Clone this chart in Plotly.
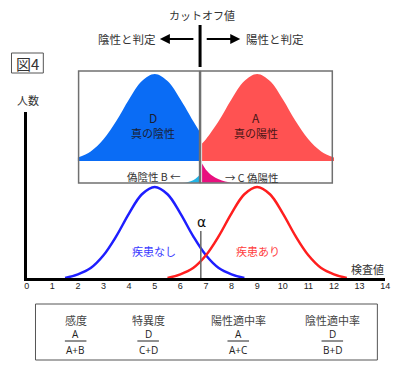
import plotly.graph_objects as go

# the page body has an 8px margin; lay the figure out in reference pixel coordinates
OFF = 8
W, H = 400 - OFF, 368 - OFF
def px(x): return (x - OFF) / W
def py(y): return 1 - (y - OFF) / H

# ---------------- data ----------------
tick_vals = list(range(15))
tick_text = [str(v) for v in tick_vals]

# main chart: number of people vs. test value
no_disease_x = [1.5, 2, 2.5, 3, 3.5, 4, 4.5, 5, 5.5, 6, 6.5, 7, 7.5, 8, 8.5]
no_disease_y = [0.0, 0.04, 0.11, 0.25, 0.46, 0.71, 0.92, 1.0, 0.92, 0.71, 0.46, 0.25, 0.11, 0.04, 0.0]
disease_x = [5.5, 6, 6.5, 7, 7.5, 8, 8.5, 9, 9.5, 10, 10.5, 11, 11.5, 12, 12.5]
disease_y = [0.0, 0.04, 0.11, 0.25, 0.46, 0.71, 0.92, 1.0, 0.92, 0.71, 0.46, 0.25, 0.11, 0.04, 0.0]
cutoff = 6.8

# inset: true negative (D), true positive (A)
tn_x = [2.0, 2.5, 3, 3.5, 4, 4.5, 5, 5.5, 6, 6.5, 6.75]
tn_y = [0.04, 0.11, 0.25, 0.46, 0.71, 0.92, 1.0, 0.92, 0.71, 0.46, 0.34]
tp_x = [6.85, 7, 7.5, 8, 8.5, 9, 9.5, 10, 10.5, 11, 11.5, 12]
tp_y = [0.20, 0.25, 0.46, 0.71, 0.92, 1.0, 0.92, 0.71, 0.46, 0.25, 0.11, 0.04]
# inset tails: false negative (B), false positive (C)
fn_x = [6.1, 6.3, 6.5, 6.65, 6.75]
fn_y = [0.0, 0.01, 0.03, 0.06, 0.09]
fp_x = [6.85, 7.0, 7.25, 7.5, 7.75, 8.0]
fp_y = [0.22, 0.15, 0.08, 0.04, 0.015, 0.0]
tail_base = -0.25

ratio_names = ["感度", "特異度", "陽性適中率", "陰性適中率"]
ratio_num = ["A", "D", "A", "D"]
ratio_den = ["A+B", "C+D", "A+C", "B+D"]

# ---------------- figure ----------------
JP = "Noto Sans CJK JP"
fig = go.Figure()

fig.add_trace(go.Scatter(x=tn_x, y=tn_y, xaxis="x", yaxis="y2", mode="lines",
                         line=dict(color="#0A6CF5", width=0, shape="spline"),
                         fill="tozeroy", fillcolor="#0A6CF5", hoverinfo="skip"))
fig.add_trace(go.Scatter(x=tp_x, y=tp_y, xaxis="x", yaxis="y2", mode="lines",
                         line=dict(color="#FF5252", width=0, shape="spline"),
                         fill="tozeroy", fillcolor="#FF5252", hoverinfo="skip"))
for tx, ty, col in [(fn_x, fn_y, "#22B4E6"), (fp_x, fp_y, "#E8107E")]:
    fig.add_trace(go.Scatter(x=tx, y=[tail_base] * len(tx), xaxis="x", yaxis="y2",
                             mode="lines", line=dict(width=0), hoverinfo="skip"))
    fig.add_trace(go.Scatter(x=tx, y=[tail_base + v for v in ty], xaxis="x", yaxis="y2",
                             mode="lines", line=dict(color=col, width=0, shape="spline"),
                             fill="tonexty", fillcolor=col, hoverinfo="skip"))

fig.add_trace(go.Scatter(x=no_disease_x, y=no_disease_y, mode="lines",
                         line=dict(color="#1E1EFF", width=2.5, shape="spline"), hoverinfo="skip"))
fig.add_trace(go.Scatter(x=disease_x, y=disease_y, mode="lines",
                         line=dict(color="#FF1E1E", width=2.5, shape="spline"), hoverinfo="skip"))

main_top = (278 - 112) / 91
fig.update_layout(
    width=W, height=H, margin=dict(l=0, r=0, t=0, b=0),
    paper_bgcolor="white", plot_bgcolor="rgba(0,0,0,0)", showlegend=False,
    xaxis=dict(domain=[px(24), px(390)], range=[0, 14], tickvals=tick_vals, ticktext=tick_text,
               showline=True, linewidth=3, linecolor="black", showgrid=False, zeroline=False,
               ticks="", tickfont=dict(family="Liberation Sans", size=9, color="#222"),
               ticklabelstandoff=-3, anchor="y", fixedrange=True),
    yaxis=dict(domain=[py(278), py(112)], range=[0, main_top], showline=True, linewidth=3,
               linecolor="black", showgrid=False, zeroline=False, showticklabels=False,
               ticks="", anchor="x"),
    yaxis2=dict(domain=[py(184), py(70)], range=[-(184 - 161) / 87, (161 - 70) / 87],
                visible=False, anchor="x"),
)

shapes = []
# inset boxes
shapes.append(dict(type="rect", xref="paper", yref="paper", x0=px(77), x1=px(200.5), y0=py(183), y1=py(71),
                   line=dict(color="#707070", width=1.5), layer="above"))
shapes.append(dict(type="rect", xref="paper", yref="paper", x0=px(201.5), x1=px(336), y0=py(183), y1=py(71),
                   line=dict(color="#707070", width=1.5), layer="above"))
# cutoff line top
shapes.append(dict(type="line", xref="paper", yref="paper", x0=px(201), x1=px(201), y0=py(25), y1=py(67),
                   line=dict(color="black", width=3)))
# alpha line
shapes.append(dict(type="line", xref="x", yref="paper", x0=cutoff, x1=cutoff, y0=py(231), y1=py(278),
                   line=dict(color="#666", width=1.5)))
# fig label box
shapes.append(dict(type="rect", xref="paper", yref="paper", x0=px(8.5), x1=px(41), y0=py(73), y1=py(53),
                   line=dict(color="#555", width=1)))
# bottom box
shapes.append(dict(type="rect", xref="paper", yref="paper", x0=px(33), x1=px(382), y0=py(360), y1=py(304),
                   line=dict(color="#555", width=1)))
ratio_cx = [74, 148, 240, 336]
for cx in ratio_cx:
    shapes.append(dict(type="line", xref="paper", yref="paper", x0=px(cx - 11), x1=px(cx + 11),
                       y0=py(341), y1=py(341), line=dict(color="#222", width=1)))
fig.update_layout(shapes=shapes)

ann = []
def T(x, y, s, size=11, color="#333", family=JP, xanchor="center"):
    ann.append(dict(x=px(x), y=py(y), xref="paper", yref="paper", text=s, showarrow=False,
                    font=dict(family=family, size=size, color=color), xanchor=xanchor, yanchor="middle"))

T(203, 15, "カットオフ値", 11)
T(126, 39, "陰性と判定", 11.5)
T(277, 39, "陽性と判定", 11.5)
# arrows
for hx, tx in [(160, 195), (242, 207)]:
    ann.append(dict(x=px(hx), y=py(39), xref="paper", yref="paper", ax=tx - hx, ay=0, text="",
                    showarrow=True, arrowhead=2, arrowsize=1, arrowwidth=2, arrowcolor="black"))
T(24.5, 63, "図4", 15, "#333")
T(25, 100, "人数", 11)
T(153, 117, "D", 12, "#1A2033")
T(153, 133, "真の陰性", 11, "#1A2033")
T(258, 117, "A", 12, "#4A1515")
T(258, 133, "真の陽性", 11, "#4A1515")
T(154, 176, "偽陰性 B ←", 10.5, "#333")
T(254, 177, "→ C 偽陽性", 10.5, "#333")
T(202, 222, "α", 14, "#111", "DejaVu Sans")
T(154, 251, "疾患なし", 11, "#3A3AFF")
T(260, 251, "疾患あり", 11, "#FF4040")
T(372, 269, "検査値", 11, "#333")
for cx, nm, nu, de in zip(ratio_cx, ratio_names, ratio_num, ratio_den):
    T(cx, 320, nm, 11, "#444")
    T(cx, 334, nu, 10, "#222", "Open Sans")
    T(cx, 350, de, 10, "#222", "Open Sans")
fig.update_layout(annotations=ann)

fig.write_html("out.html")
